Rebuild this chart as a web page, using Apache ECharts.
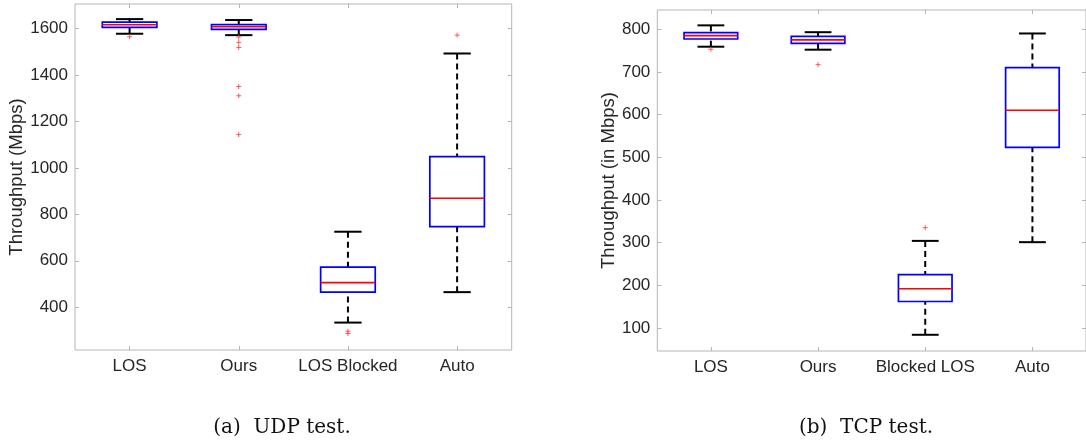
<!DOCTYPE html>
<html>
<head>
<meta charset="utf-8">
<script src="https://cdn.jsdelivr.net/npm/echarts@6/dist/echarts.min.js"></script>
<style>
  html, body { margin: 0; padding: 0; background: #fff; }
  #chart { width: 1086px; height: 442px; }
</style>
</head>
<body>
<div id="chart"></div>
<script>
// Categories of each test
const udpCategories = ['LOS', 'Ours', 'LOS Blocked', 'Auto'];
const tcpCategories = ['LOS', 'Ours', 'Blocked LOS', 'Auto'];

// Box summaries per category: [lower whisker, Q1, median, Q3, upper whisker]
const udpBoxes = [
  [1577, 1604, 1616, 1627, 1640],
  [1571, 1596, 1607, 1616, 1636],
  [334, 465, 506, 573, 725],
  [465, 747, 869, 1048, 1492]
];
const tcpBoxes = [
  [759, 777, 785, 792, 809],
  [752, 767, 775, 783, 793],
  [84, 162, 192, 225, 304],
  [301, 523, 610, 710, 790]
];

// Outliers: [category index, value]
const udpOutliers = [
  [0, 1564],
  [1, 1563], [1, 1540], [1, 1518], [1, 1350], [1, 1310], [1, 1143],
  [2, 297], [2, 287],
  [3, 1571]
];
const tcpOutliers = [
  [0, 753],
  [1, 717],
  [2, 335]
];

// Value-axis ticks and limits
const udpTicks = [400, 600, 800, 1000, 1200, 1400, 1600];
const tcpTicks = [100, 200, 300, 400, 500, 600, 700, 800];
const udpLimits = [216, 1705];
const tcpLimits = [46, 845];

const FONT = '"Liberation Sans", Arial, Helvetica, sans-serif';
const TEXT = '#262626';
const FRAME = '#b5b5b5';

function boxRows(boxes) {
  return boxes.map((b, i) => [i].concat(b));
}

function renderBox(params, api) {
  const xi = api.value(0);
  const pLo = api.coord([xi, api.value(1)]);
  const pQ1 = api.coord([xi, api.value(2)]);
  const pMed = api.coord([xi, api.value(3)]);
  const pQ3 = api.coord([xi, api.value(4)]);
  const pHi = api.coord([xi, api.value(5)]);
  const band = api.size([1, 0])[0];
  const half = band * 0.25;
  const capHalf = band * 0.125;
  const cx = pLo[0];
  const dash = { stroke: '#000', lineWidth: 2, lineDash: [6, 4] };
  const solid = { stroke: '#000', lineWidth: 2 };
  return {
    type: 'group',
    children: [
      { type: 'line', shape: { x1: cx, y1: pHi[1], x2: cx, y2: pQ3[1] }, style: dash },
      { type: 'line', shape: { x1: cx, y1: pLo[1], x2: cx, y2: pQ1[1] }, style: dash },
      { type: 'line', shape: { x1: cx - capHalf, y1: pHi[1], x2: cx + capHalf, y2: pHi[1] }, style: solid },
      { type: 'line', shape: { x1: cx - capHalf, y1: pLo[1], x2: cx + capHalf, y2: pLo[1] }, style: solid },
      { type: 'rect', shape: { x: cx - half, y: pQ3[1], width: 2 * half, height: pQ1[1] - pQ3[1] },
        style: { fill: '#fff', stroke: '#0000ff', lineWidth: 1.7 } },
      { type: 'line', shape: { x1: cx - half, y1: pMed[1], x2: cx + half, y2: pMed[1] },
        style: { stroke: '#ff0000', lineWidth: 1.6 } }
    ]
  };
}

function renderOutlier(params, api) {
  const p = api.coord([api.value(0), api.value(1)]);
  const r = 2.5;
  const st = { stroke: '#ff4040', lineWidth: 1, opacity: 0.85 };
  return {
    type: 'group',
    children: [
      { type: 'line', shape: { x1: p[0] - r, y1: p[1], x2: p[0] + r, y2: p[1] }, style: st },
      { type: 'line', shape: { x1: p[0], y1: p[1] - r, x2: p[0], y2: p[1] + r }, style: st }
    ]
  };
}

function catAxis(gridIndex, data, top) {
  return {
    type: 'category',
    gridIndex: gridIndex,
    data: data,
    position: top ? 'top' : 'bottom',
    boundaryGap: true,
    axisLine: { show: false },
    axisTick: { show: true, inside: true, alignWithLabel: true, interval: 0, length: 4,
                lineStyle: { color: FRAME, width: 1 } },
    axisLabel: { show: !top, interval: 0, color: TEXT, fontSize: 17, fontFamily: FONT, margin: 8 },
    splitLine: { show: false }
  };
}

function valAxis(gridIndex, limits, ticks, right, name, nameGap) {
  return {
    type: 'value',
    gridIndex: gridIndex,
    position: right ? 'right' : 'left',
    min: limits[0],
    max: limits[1],
    name: name || '',
    nameLocation: 'middle',
    nameGap: nameGap || 0,
    nameTextStyle: { color: TEXT, fontSize: 18.5, fontFamily: FONT },
    axisLine: { show: false },
    axisTick: { show: true, inside: true, length: 4, customValues: ticks,
                lineStyle: { color: FRAME, width: 1 } },
    axisLabel: { show: !right, color: TEXT, fontSize: 17, fontFamily: FONT, margin: 7,
                 customValues: ticks, formatter: (v) => String(v) },
    splitLine: { show: false }
  };
}

const chart = echarts.init(document.getElementById('chart'), null, { renderer: 'canvas' });

chart.setOption({
  animation: false,
  backgroundColor: '#fff',
  grid: [
    { left: 75, top: 4, width: 436.7, height: 346, show: true, borderColor: FRAME, borderWidth: 1,
      backgroundColor: 'transparent', containLabel: false },
    { left: 657.3, top: 10, width: 435.6, height: 341, show: true, borderColor: FRAME, borderWidth: 1,
      backgroundColor: 'transparent', containLabel: false }
  ],
  xAxis: [
    catAxis(0, udpCategories, false),
    catAxis(0, udpCategories, true),
    catAxis(1, tcpCategories, false),
    catAxis(1, tcpCategories, true)
  ],
  yAxis: [
    valAxis(0, udpLimits, udpTicks, false, 'Throughput (Mbps)', 41),
    valAxis(0, udpLimits, udpTicks, true),
    valAxis(1, tcpLimits, tcpTicks, false, 'Throughput (in Mbps)', 37),
    valAxis(1, tcpLimits, tcpTicks, true)
  ],
  series: [
    { type: 'custom', name: 'UDP', xAxisIndex: 0, yAxisIndex: 0, renderItem: renderBox,
      data: boxRows(udpBoxes), encode: { x: 0, y: [1, 2, 3, 4, 5] }, clip: false },
    { type: 'custom', name: 'UDP outliers', xAxisIndex: 0, yAxisIndex: 0, renderItem: renderOutlier,
      data: udpOutliers, encode: { x: 0, y: 1 } },
    { type: 'custom', name: 'TCP', xAxisIndex: 2, yAxisIndex: 2, renderItem: renderBox,
      data: boxRows(tcpBoxes), encode: { x: 0, y: [1, 2, 3, 4, 5] }, clip: false },
    { type: 'custom', name: 'TCP outliers', xAxisIndex: 2, yAxisIndex: 2, renderItem: renderOutlier,
      data: tcpOutliers, encode: { x: 0, y: 1 } }
  ],
  graphic: [
    { type: 'text', x: 282, y: 428,
      style: { text: '(a)  UDP test.', align: 'center', verticalAlign: 'middle',
               fill: '#111', fontSize: 20, fontFamily: '"DejaVu Serif", serif' } },
    { type: 'text', x: 866, y: 428,
      style: { text: '(b)  TCP test.', align: 'center', verticalAlign: 'middle',
               fill: '#111', fontSize: 20, fontFamily: '"DejaVu Serif", serif' } }
  ]
});
</script>
</body>
</html>
